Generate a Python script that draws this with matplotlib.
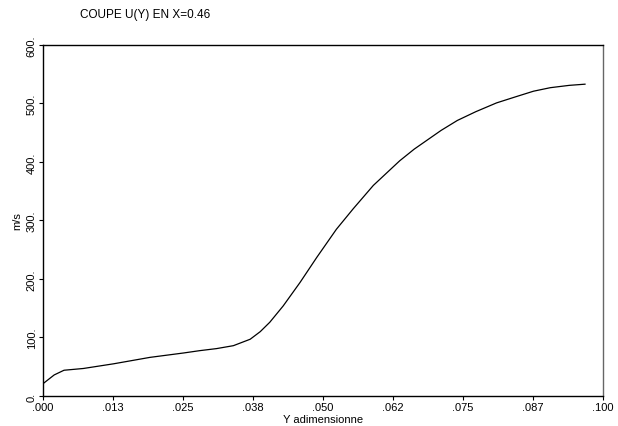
import matplotlib
matplotlib.use('Agg')
import matplotlib.pyplot as plt

plt.rcParams['font.family'] = ['Liberation Sans', 'DejaVu Sans']

# profile U(Y) at X=0.46
y_adim = [0.0, 0.0020, 0.00375, 0.0072, 0.0126, 0.0191, 0.0251, 0.0280, 0.0310,
          0.0340, 0.0370, 0.0388, 0.0405, 0.0429, 0.0459, 0.0489, 0.0524,
          0.0554, 0.0590, 0.0637, 0.0663, 0.0711, 0.0740, 0.0773, 0.0810,
          0.0846, 0.0876, 0.0906, 0.0940, 0.0968]
u_ms = [21, 36, 44, 47, 55, 66, 73.5, 77.5, 81,
        86, 97, 110, 126, 154, 194, 237, 285,
        320, 360, 402, 422, 454, 471, 486, 501,
        512, 521, 527, 531, 533]

x_ticks = [0.0, 0.0125, 0.025, 0.0375, 0.05, 0.0625, 0.075, 0.0875, 0.1]
x_labels = ['.000', '.013', '.025', '.038', '.050', '.062', '.075', '.087', '.100']
y_ticks = [0, 100, 200, 300, 400, 500, 600]
y_labels = ['0.', '100.', '200.', '300.', '400.', '500.', '600.']

fig = plt.figure(figsize=(6.18, 4.27), dpi=100)
ax = fig.add_axes([0.0696, 0.0703, 0.906, 0.822])

ax.plot(y_adim, u_ms, color='black', linewidth=0.9)

ax.set_xlim(0, 0.1)
ax.set_ylim(0, 600)
ax.set_xticks(x_ticks)
ax.set_xticklabels(x_labels, fontsize=8)
ax.set_yticks(y_ticks)
ax.set_yticklabels(y_labels, fontsize=8, rotation=90, va='center')
ax.tick_params(direction='out', length=3, width=0.8, pad=1.5)

for s in ax.spines.values():
    s.set_linewidth(1.0)
ax.spines['right'].set_color('#666666')

ax.set_xlabel('Y adimensionne', fontsize=8, labelpad=1)
ax.set_ylabel('m/s', fontsize=8, labelpad=3)

fig.text(0.129, 0.965, 'COUPE U(Y) EN X=0.46', fontsize=8.5, va='center')

fig.savefig('out.png', dpi=100)
